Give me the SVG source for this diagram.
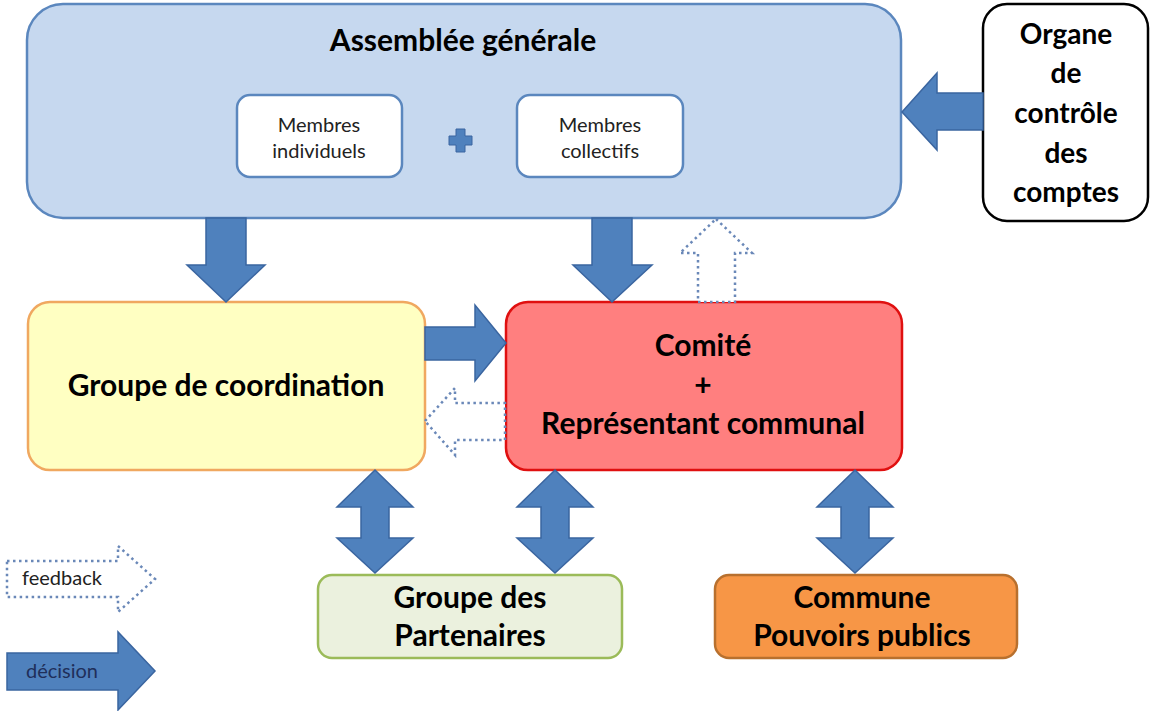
<svg xmlns="http://www.w3.org/2000/svg" width="1152" height="711" viewBox="0 0 1152 711">
<style>
.t{font-family:Lato,"Open Sans","Liberation Sans",sans-serif;fill:#000;text-anchor:middle}
.b{font-weight:bold;font-size:30px}
.s{font-size:20px;fill:#222}
.dec{fill:#4F81BD;stroke:#3A65A0;stroke-width:1.5;stroke-linejoin:miter}
.fb{fill:#fff;stroke:#6A88B8;stroke-width:2.5;stroke-dasharray:2.5 3.5}
</style>
<rect width="1152" height="711" fill="#fff"/>
<g id="assemblee">
<rect x="27" y="4" width="874" height="214" rx="36" fill="#C6D8EF" stroke="#5B87BE" stroke-width="2.5"/>
<text class="t b" x="463" y="51">Assemblée générale</text>
</g>
<g id="membres-individuels">
<rect x="237" y="95" width="165" height="82" rx="13" fill="#fff" stroke="#5B87BE" stroke-width="2.5"/>
<text class="t s" x="319" y="132">Membres</text>
<text class="t s" x="319" y="158">individuels</text>
</g>
<g id="plus">
<path d="M456 129h9v7h7v9h-7v7h-9v-7h-7v-9h7z" fill="#4F81BD" stroke="#3A65A0" stroke-width="1"/>
</g>
<g id="membres-collectifs">
<rect x="517" y="95" width="166" height="82" rx="13" fill="#fff" stroke="#5B87BE" stroke-width="2.5"/>
<text class="t s" x="600" y="132">Membres</text>
<text class="t s" x="600" y="158">collectifs</text>
</g>
<g id="organe">
<rect x="983" y="4" width="165" height="217" rx="24" fill="#fff" stroke="#000" stroke-width="2.5"/>
<text class="t b" x="1066" y="44" style="font-size:28px">Organe</text>
<text class="t b" x="1066" y="83" style="font-size:28px">de</text>
<text class="t b" x="1066" y="123" style="font-size:28px">contrôle</text>
<text class="t b" x="1066" y="163" style="font-size:28px">des</text>
<text class="t b" x="1066" y="202" style="font-size:28px">comptes</text>
</g>
<g id="coordination">
<rect x="28" y="302" width="397" height="168" rx="22" fill="#FFFFC2" stroke="#F0A860" stroke-width="2.5"/>
<text class="t b" x="226" y="396">Groupe de coordination</text>
</g>
<g id="comite">
<rect x="506" y="302" width="396" height="168" rx="22" fill="#FF7F7F" stroke="#E01010" stroke-width="2.5"/>
<text class="t b" x="703" y="356">Comité</text>
<text class="t b" x="703" y="396">+</text>
<text class="t b" x="703" y="434">Représentant communal</text>
</g>
<g id="partenaires">
<rect x="318" y="575" width="304" height="83" rx="14" fill="#EBF1DE" stroke="#9BBB59" stroke-width="2.5"/>
<text class="t b" x="470" y="608">Groupe des</text>
<text class="t b" x="470" y="646">Partenaires</text>
</g>
<g id="commune">
<rect x="715" y="575" width="302" height="83" rx="14" fill="#F79646" stroke="#B8702E" stroke-width="2.5"/>
<text class="t b" x="862" y="608">Commune</text>
<text class="t b" x="862" y="646">Pouvoirs publics</text>
</g>
<g id="connectors">
<polygon class="dec" points="983,93 937,93 937,73 902,112 937,150 937,130 983,130"/>
<polygon class="dec" points="206,218 246,218 246,265 265,265 226,302 187,265 206,265"/>
<polygon class="dec" points="592,218 632,218 632,265 652,265 612,302 573,265 592,265"/>
<polygon class="fb" points="716,219 752,253 735,253 735,302 698,302 698,253 680,253"/>
<polygon class="dec" points="425,327 475,327 475,305 506,343 475,381 475,360 425,360"/>
<polygon class="fb" points="425,421 455,388 455,403 505,403 505,440 455,440 455,455"/>
<polygon class="dec" points="375,470 413,507 389,507 389,538 413,538 375,573 337,538 361,538 361,507 337,507"/>
<polygon class="dec" points="555,470 593,507 569,507 569,538 593,538 555,573 517,538 541,538 541,507 517,507"/>
<polygon class="dec" points="855,470 893,507 869,507 869,538 893,538 855,573 817,538 841,538 841,507 817,507"/>
</g>
<g id="legend">
<polygon class="fb" points="7,561 118,561 118,546 155,579 118,612 118,597 7,597"/>
<text class="t s" x="62" y="585">feedback</text>
<polygon class="dec" points="7,653 118,653 118,632 155,671 118,710 118,690 7,690"/>
<text class="t s" x="62" y="678" style="fill:#1F2F5A">décision</text>
</g>
</svg>
